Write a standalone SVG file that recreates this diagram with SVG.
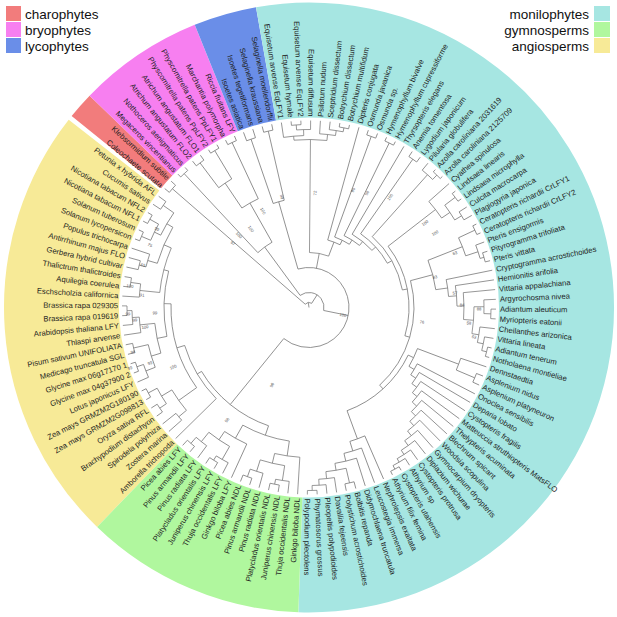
<svg xmlns="http://www.w3.org/2000/svg" width="617" height="617" viewBox="0 0 617 617">
<style>
.w{fill:none;stroke-width:115}
.t{font-family:"Liberation Sans",Arial,sans-serif;font-size:7.7px;fill:#1e1e1e;dominant-baseline:central}
.f{text-anchor:end}
.bs{font-family:"Liberation Sans",Arial,sans-serif;font-size:4.2px;fill:#555;text-anchor:middle;dominant-baseline:central}
.lg{font-family:"Liberation Sans",Arial,sans-serif;font-size:13.5px;fill:#111}
#connectors line,#connectors circle{fill:none;stroke:#707070;stroke-width:0.7}
</style>
<rect width="617" height="617" fill="#fff"/>
<g id="wedges" transform="translate(309 307.5)">
<circle class="w" r="247.5" pathLength="360" stroke="#f7ea97" stroke-dasharray="84 400" transform="rotate(134)"/>
<circle class="w" r="247.5" pathLength="360" stroke="#f27c7c" stroke-dasharray="5.1 400" transform="rotate(218.9)"/>
<circle class="w" r="247.5" pathLength="360" stroke="#f77ff0" stroke-dasharray="24 400" transform="rotate(224)"/>
<circle class="w" r="247.5" pathLength="360" stroke="#6a8ee8" stroke-dasharray="12 400" transform="rotate(248)"/>
<circle class="w" r="247.5" pathLength="360" stroke="#a6e6e2" stroke-dasharray="192 400" transform="rotate(260)"/>
<circle class="w" r="247.5" pathLength="360" stroke="#b0f79e" stroke-dasharray="42 400" transform="rotate(92)"/>
</g>
<g id="legend">
<rect x="6" y="6" width="15" height="15" fill="#f27c7c"/><text class="lg" x="25" y="18.5">charophytes</text>
<rect x="6" y="22" width="15" height="15" fill="#f77ff0"/><text class="lg" x="25" y="34.5">bryophytes</text>
<rect x="6" y="38" width="15" height="15" fill="#6a8ee8"/><text class="lg" x="25" y="50.5">lycophytes</text>
<rect x="594" y="6" width="16" height="15" fill="#a6e6e2"/><text class="lg" x="589" y="18.5" text-anchor="end">monilophytes</text>
<rect x="594" y="22" width="16" height="15" fill="#b0f79e"/><text class="lg" x="589" y="34.5" text-anchor="end">gymnosperms</text>
<rect x="594" y="38" width="16" height="15" fill="#f7ea97"/><text class="lg" x="589" y="50.5" text-anchor="end">angiosperms</text>
</g>
<g id="connectors" transform="translate(309 307.5)">
<line x1="0" x2="5" transform="rotate(261.8)"/>
<circle r="5" pathLength="360" stroke-dasharray="81.6 999" transform="rotate(221)"/>
<line x1="5" x2="181" transform="rotate(221)"/><line x1="5" x2="15" transform="rotate(302.6)"/>
<circle r="181" pathLength="360" stroke-dasharray="3 999" transform="rotate(219.5)"/>
<line x1="181" x2="187" transform="rotate(219.5)"/><line x1="181" x2="187" transform="rotate(222.5)"/>
<circle r="15" pathLength="360" stroke-dasharray="137.75 999" transform="rotate(233.75)"/>
<line x1="15" x2="75" transform="rotate(233.75)"/><line x1="15" x2="40" transform="rotate(371.5)"/>
<circle r="75" pathLength="360" stroke-dasharray="13.5 999" transform="rotate(227)"/>
<line x1="75" x2="183" transform="rotate(227)"/><line x1="75" x2="120" transform="rotate(240.5)"/>
<circle r="183" pathLength="360" stroke-dasharray="3 999" transform="rotate(225.5)"/>
<line x1="183" x2="187" transform="rotate(225.5)"/><line x1="183" x2="187" transform="rotate(228.5)"/>
<circle r="120" pathLength="360" stroke-dasharray="9 999" transform="rotate(236)"/>
<line x1="120" x2="150" transform="rotate(236)"/><line x1="120" x2="182" transform="rotate(245)"/>
<circle r="150" pathLength="360" stroke-dasharray="6 999" transform="rotate(233)"/>
<line x1="150" x2="181" transform="rotate(233)"/><line x1="150" x2="183" transform="rotate(239)"/>
<circle r="181" pathLength="360" stroke-dasharray="3 999" transform="rotate(231.5)"/>
<line x1="181" x2="187" transform="rotate(231.5)"/><line x1="181" x2="187" transform="rotate(234.5)"/>
<circle r="183" pathLength="360" stroke-dasharray="3 999" transform="rotate(237.5)"/>
<line x1="183" x2="187" transform="rotate(237.5)"/><line x1="183" x2="187" transform="rotate(240.5)"/>
<circle r="182" pathLength="360" stroke-dasharray="3 999" transform="rotate(243.5)"/>
<line x1="182" x2="187" transform="rotate(243.5)"/><line x1="182" x2="187" transform="rotate(246.5)"/>
<circle r="40" pathLength="360" stroke-dasharray="235.07 999" transform="rotate(254)"/>
<line x1="40" x2="110" transform="rotate(254)"/><line x1="40" x2="55" transform="rotate(280.7)"/><line x1="40" x2="125" transform="rotate(489.07)"/>
<circle r="110" pathLength="360" stroke-dasharray="6 999" transform="rotate(251)"/>
<line x1="110" x2="178" transform="rotate(251)"/><line x1="110" x2="181" transform="rotate(257)"/>
<circle r="178" pathLength="360" stroke-dasharray="3 999" transform="rotate(249.5)"/>
<line x1="178" x2="187" transform="rotate(249.5)"/><line x1="178" x2="187" transform="rotate(252.5)"/>
<circle r="181" pathLength="360" stroke-dasharray="3 999" transform="rotate(255.5)"/>
<line x1="181" x2="187" transform="rotate(255.5)"/><line x1="181" x2="187" transform="rotate(258.5)"/>
<circle r="55" pathLength="360" stroke-dasharray="20.39 999" transform="rotate(270.5)"/>
<line x1="55" x2="168" transform="rotate(270.5)"/><line x1="55" x2="70" transform="rotate(290.89)"/>
<circle r="168" pathLength="360" stroke-dasharray="11.25 999" transform="rotate(264.875)"/>
<line x1="168" x2="172" transform="rotate(264.875)"/><line x1="168" x2="174" transform="rotate(276.125)"/>
<circle r="172" pathLength="360" stroke-dasharray="6.75 999" transform="rotate(261.5)"/>
<line x1="172" x2="187" transform="rotate(261.5)"/><line x1="172" x2="178" transform="rotate(268.25)"/>
<circle r="178" pathLength="360" stroke-dasharray="4.5 999" transform="rotate(266)"/>
<line x1="178" x2="183" transform="rotate(266)"/><line x1="178" x2="187" transform="rotate(270.5)"/>
<circle r="183" pathLength="360" stroke-dasharray="3 999" transform="rotate(264.5)"/>
<line x1="183" x2="187" transform="rotate(264.5)"/><line x1="183" x2="187" transform="rotate(267.5)"/>
<circle r="174" pathLength="360" stroke-dasharray="5.25 999" transform="rotate(273.5)"/>
<line x1="174" x2="187" transform="rotate(273.5)"/><line x1="174" x2="179" transform="rotate(278.75)"/>
<circle r="179" pathLength="360" stroke-dasharray="4.5 999" transform="rotate(276.5)"/>
<line x1="179" x2="187" transform="rotate(276.5)"/><line x1="179" x2="183" transform="rotate(281)"/>
<circle r="183" pathLength="360" stroke-dasharray="3 999" transform="rotate(279.5)"/>
<line x1="183" x2="187" transform="rotate(279.5)"/><line x1="183" x2="187" transform="rotate(282.5)"/>
<circle r="70" pathLength="360" stroke-dasharray="10.79 999" transform="rotate(285.5)"/>
<line x1="70" x2="187" transform="rotate(285.5)"/><line x1="70" x2="75" transform="rotate(296.29)"/>
<circle r="75" pathLength="360" stroke-dasharray="12.57 999" transform="rotate(290)"/>
<line x1="75" x2="182" transform="rotate(290)"/><line x1="75" x2="80" transform="rotate(302.57)"/>
<circle r="182" pathLength="360" stroke-dasharray="3 999" transform="rotate(288.5)"/>
<line x1="182" x2="187" transform="rotate(288.5)"/><line x1="182" x2="187" transform="rotate(291.5)"/>
<circle r="80" pathLength="360" stroke-dasharray="13.14 999" transform="rotate(296)"/>
<line x1="80" x2="183" transform="rotate(296)"/><line x1="80" x2="85" transform="rotate(309.14)"/>
<circle r="183" pathLength="360" stroke-dasharray="3 999" transform="rotate(294.5)"/>
<line x1="183" x2="187" transform="rotate(294.5)"/><line x1="183" x2="187" transform="rotate(297.5)"/>
<circle r="85" pathLength="360" stroke-dasharray="17.28 999" transform="rotate(300.5)"/>
<line x1="85" x2="187" transform="rotate(300.5)"/><line x1="85" x2="90" transform="rotate(317.78)"/>
<circle r="90" pathLength="360" stroke-dasharray="25.55 999" transform="rotate(305)"/>
<line x1="90" x2="181" transform="rotate(305)"/><line x1="90" x2="95" transform="rotate(330.55)"/>
<circle r="181" pathLength="360" stroke-dasharray="3 999" transform="rotate(303.5)"/>
<line x1="181" x2="187" transform="rotate(303.5)"/><line x1="181" x2="187" transform="rotate(306.5)"/>
<circle r="95" pathLength="360" stroke-dasharray="37.6 999" transform="rotate(311.75)"/>
<line x1="95" x2="178" transform="rotate(311.75)"/><line x1="95" x2="100" transform="rotate(349.35)"/>
<circle r="178" pathLength="360" stroke-dasharray="4.5 999" transform="rotate(309.5)"/>
<line x1="178" x2="187" transform="rotate(309.5)"/><line x1="178" x2="184" transform="rotate(314)"/>
<circle r="184" pathLength="360" stroke-dasharray="3 999" transform="rotate(312.5)"/>
<line x1="184" x2="187" transform="rotate(312.5)"/><line x1="184" x2="187" transform="rotate(315.5)"/>
<circle r="100" pathLength="360" stroke-dasharray="54.19 999" transform="rotate(322.25)"/>
<line x1="100" x2="160" transform="rotate(322.25)"/><line x1="100" x2="105" transform="rotate(376.44)"/>
<circle r="160" pathLength="360" stroke-dasharray="7.5 999" transform="rotate(318.5)"/>
<line x1="160" x2="187" transform="rotate(318.5)"/><line x1="160" x2="170" transform="rotate(326)"/>
<circle r="170" pathLength="360" stroke-dasharray="6 999" transform="rotate(323)"/>
<line x1="170" x2="183" transform="rotate(323)"/><line x1="170" x2="178" transform="rotate(329)"/>
<circle r="183" pathLength="360" stroke-dasharray="3 999" transform="rotate(321.5)"/>
<line x1="183" x2="187" transform="rotate(321.5)"/><line x1="183" x2="187" transform="rotate(324.5)"/>
<circle r="178" pathLength="360" stroke-dasharray="3 999" transform="rotate(327.5)"/>
<line x1="178" x2="187" transform="rotate(327.5)"/><line x1="178" x2="187" transform="rotate(330.5)"/>
<circle r="105" pathLength="360" stroke-dasharray="62.52 999" transform="rotate(345.18)"/>
<line x1="105" x2="128" transform="rotate(345.18)"/><line x1="105" x2="110" transform="rotate(407.7)"/>
<circle r="128" pathLength="360" stroke-dasharray="13.615 999" transform="rotate(338.375)"/>
<line x1="128" x2="165" transform="rotate(338.375)"/><line x1="128" x2="140" transform="rotate(351.99)"/>
<circle r="165" pathLength="360" stroke-dasharray="6.75 999" transform="rotate(335)"/>
<line x1="165" x2="183" transform="rotate(335)"/><line x1="165" x2="178" transform="rotate(341.75)"/>
<circle r="183" pathLength="360" stroke-dasharray="3 999" transform="rotate(333.5)"/>
<line x1="183" x2="187" transform="rotate(333.5)"/><line x1="183" x2="187" transform="rotate(336.5)"/>
<circle r="178" pathLength="360" stroke-dasharray="4.5 999" transform="rotate(339.5)"/>
<line x1="178" x2="187" transform="rotate(339.5)"/><line x1="178" x2="182" transform="rotate(344)"/>
<circle r="182" pathLength="360" stroke-dasharray="3 999" transform="rotate(342.5)"/>
<line x1="182" x2="187" transform="rotate(342.5)"/><line x1="182" x2="187" transform="rotate(345.5)"/>
<circle r="140" pathLength="360" stroke-dasharray="6.98 999" transform="rotate(348.5)"/>
<line x1="140" x2="187" transform="rotate(348.5)"/><line x1="140" x2="148" transform="rotate(355.48)"/>
<circle r="148" pathLength="360" stroke-dasharray="7.97 999" transform="rotate(351.5)"/>
<line x1="148" x2="187" transform="rotate(351.5)"/><line x1="148" x2="155" transform="rotate(359.47)"/>
<circle r="155" pathLength="360" stroke-dasharray="9.94 999" transform="rotate(354.5)"/>
<line x1="155" x2="187" transform="rotate(354.5)"/><line x1="155" x2="165" transform="rotate(364.44)"/>
<circle r="165" pathLength="360" stroke-dasharray="9.375 999" transform="rotate(359.75)"/>
<line x1="165" x2="175" transform="rotate(359.75)"/><line x1="165" x2="172" transform="rotate(369.125)"/>
<circle r="175" pathLength="360" stroke-dasharray="4.5 999" transform="rotate(357.5)"/>
<line x1="175" x2="187" transform="rotate(357.5)"/><line x1="175" x2="182" transform="rotate(362)"/>
<circle r="182" pathLength="360" stroke-dasharray="3 999" transform="rotate(360.5)"/>
<line x1="182" x2="187" transform="rotate(360.5)"/><line x1="182" x2="187" transform="rotate(363.5)"/>
<circle r="172" pathLength="360" stroke-dasharray="5.25 999" transform="rotate(366.5)"/>
<line x1="172" x2="187" transform="rotate(366.5)"/><line x1="172" x2="178" transform="rotate(371.75)"/>
<circle r="178" pathLength="360" stroke-dasharray="4.5 999" transform="rotate(369.5)"/>
<line x1="178" x2="187" transform="rotate(369.5)"/><line x1="178" x2="183" transform="rotate(374)"/>
<circle r="183" pathLength="360" stroke-dasharray="3 999" transform="rotate(372.5)"/>
<line x1="183" x2="187" transform="rotate(372.5)"/><line x1="183" x2="187" transform="rotate(375.5)"/>
<circle r="110" pathLength="360" stroke-dasharray="44.13 999" transform="rotate(385.63)"/>
<line x1="110" x2="116" transform="rotate(385.63)"/><line x1="110" x2="140" transform="rotate(429.76)"/>
<circle r="116" pathLength="360" stroke-dasharray="9.75 999" transform="rotate(380.75)"/>
<line x1="116" x2="160" transform="rotate(380.75)"/><line x1="116" x2="122" transform="rotate(390.5)"/>
<circle r="160" pathLength="360" stroke-dasharray="4.5 999" transform="rotate(378.5)"/>
<line x1="160" x2="187" transform="rotate(378.5)"/><line x1="160" x2="180" transform="rotate(383)"/>
<circle r="180" pathLength="360" stroke-dasharray="3 999" transform="rotate(381.5)"/>
<line x1="180" x2="187" transform="rotate(381.5)"/><line x1="180" x2="187" transform="rotate(384.5)"/>
<circle r="122" pathLength="360" stroke-dasharray="6 999" transform="rotate(387.5)"/>
<line x1="122" x2="187" transform="rotate(387.5)"/><line x1="122" x2="128" transform="rotate(393.5)"/>
<circle r="128" pathLength="360" stroke-dasharray="6 999" transform="rotate(390.5)"/>
<line x1="128" x2="187" transform="rotate(390.5)"/><line x1="128" x2="134" transform="rotate(396.5)"/>
<circle r="134" pathLength="360" stroke-dasharray="6 999" transform="rotate(393.5)"/>
<line x1="134" x2="187" transform="rotate(393.5)"/><line x1="134" x2="140" transform="rotate(399.5)"/>
<circle r="140" pathLength="360" stroke-dasharray="5.99 999" transform="rotate(396.5)"/>
<line x1="140" x2="187" transform="rotate(396.5)"/><line x1="140" x2="146" transform="rotate(402.49)"/>
<circle r="146" pathLength="360" stroke-dasharray="5.98 999" transform="rotate(399.5)"/>
<line x1="146" x2="187" transform="rotate(399.5)"/><line x1="146" x2="152" transform="rotate(405.48)"/>
<circle r="152" pathLength="360" stroke-dasharray="5.95 999" transform="rotate(402.5)"/>
<line x1="152" x2="187" transform="rotate(402.5)"/><line x1="152" x2="158" transform="rotate(408.45)"/>
<circle r="158" pathLength="360" stroke-dasharray="5.91 999" transform="rotate(405.5)"/>
<line x1="158" x2="187" transform="rotate(405.5)"/><line x1="158" x2="164" transform="rotate(411.41)"/>
<circle r="164" pathLength="360" stroke-dasharray="5.81 999" transform="rotate(408.5)"/>
<line x1="164" x2="187" transform="rotate(408.5)"/><line x1="164" x2="170" transform="rotate(414.31)"/>
<circle r="170" pathLength="360" stroke-dasharray="5.625 999" transform="rotate(411.5)"/>
<line x1="170" x2="187" transform="rotate(411.5)"/><line x1="170" x2="175" transform="rotate(417.125)"/>
<circle r="175" pathLength="360" stroke-dasharray="5.25 999" transform="rotate(414.5)"/>
<line x1="175" x2="187" transform="rotate(414.5)"/><line x1="175" x2="179" transform="rotate(419.75)"/>
<circle r="179" pathLength="360" stroke-dasharray="4.5 999" transform="rotate(417.5)"/>
<line x1="179" x2="187" transform="rotate(417.5)"/><line x1="179" x2="183" transform="rotate(422)"/>
<circle r="183" pathLength="360" stroke-dasharray="3 999" transform="rotate(420.5)"/>
<line x1="183" x2="187" transform="rotate(420.5)"/><line x1="183" x2="187" transform="rotate(423.5)"/>
<circle r="140" pathLength="360" stroke-dasharray="6.52 999" transform="rotate(426.5)"/>
<line x1="140" x2="187" transform="rotate(426.5)"/><line x1="140" x2="150" transform="rotate(433.02)"/>
<circle r="150" pathLength="360" stroke-dasharray="7.03 999" transform="rotate(429.5)"/>
<line x1="150" x2="187" transform="rotate(429.5)"/><line x1="150" x2="158" transform="rotate(436.53)"/>
<circle r="158" pathLength="360" stroke-dasharray="8.06 999" transform="rotate(432.5)"/>
<line x1="158" x2="187" transform="rotate(432.5)"/><line x1="158" x2="165" transform="rotate(440.56)"/>
<circle r="165" pathLength="360" stroke-dasharray="7.13 999" transform="rotate(437)"/>
<line x1="165" x2="180" transform="rotate(437)"/><line x1="165" x2="172" transform="rotate(444.13)"/>
<circle r="180" pathLength="360" stroke-dasharray="3 999" transform="rotate(435.5)"/>
<line x1="180" x2="187" transform="rotate(435.5)"/><line x1="180" x2="187" transform="rotate(438.5)"/>
<circle r="172" pathLength="360" stroke-dasharray="5.25 999" transform="rotate(441.5)"/>
<line x1="172" x2="187" transform="rotate(441.5)"/><line x1="172" x2="178" transform="rotate(446.75)"/>
<circle r="178" pathLength="360" stroke-dasharray="4.5 999" transform="rotate(444.5)"/>
<line x1="178" x2="187" transform="rotate(444.5)"/><line x1="178" x2="183" transform="rotate(449)"/>
<circle r="183" pathLength="360" stroke-dasharray="3 999" transform="rotate(447.5)"/>
<line x1="183" x2="187" transform="rotate(447.5)"/><line x1="183" x2="187" transform="rotate(450.5)"/>
<circle r="125" pathLength="360" stroke-dasharray="40.385 999" transform="rotate(468.875)"/>
<line x1="125" x2="135" transform="rotate(468.875)"/><line x1="125" x2="130" transform="rotate(509.26)"/>
<circle r="135" pathLength="360" stroke-dasharray="21 999" transform="rotate(458.375)"/>
<line x1="135" x2="150" transform="rotate(458.375)"/><line x1="135" x2="150" transform="rotate(479.375)"/>
<circle r="150" pathLength="360" stroke-dasharray="9.75 999" transform="rotate(453.5)"/>
<line x1="150" x2="187" transform="rotate(453.5)"/><line x1="150" x2="160" transform="rotate(463.25)"/>
<circle r="160" pathLength="360" stroke-dasharray="9 999" transform="rotate(458.75)"/>
<line x1="160" x2="175" transform="rotate(458.75)"/><line x1="160" x2="172" transform="rotate(467.75)"/>
<circle r="175" pathLength="360" stroke-dasharray="4.5 999" transform="rotate(456.5)"/>
<line x1="175" x2="187" transform="rotate(456.5)"/><line x1="175" x2="180" transform="rotate(461)"/>
<circle r="180" pathLength="360" stroke-dasharray="3 999" transform="rotate(459.5)"/>
<line x1="180" x2="187" transform="rotate(459.5)"/><line x1="180" x2="187" transform="rotate(462.5)"/>
<circle r="172" pathLength="360" stroke-dasharray="4.5 999" transform="rotate(465.5)"/>
<line x1="172" x2="187" transform="rotate(465.5)"/><line x1="172" x2="180" transform="rotate(470)"/>
<circle r="180" pathLength="360" stroke-dasharray="3 999" transform="rotate(468.5)"/>
<line x1="180" x2="187" transform="rotate(468.5)"/><line x1="180" x2="187" transform="rotate(471.5)"/>
<circle r="150" pathLength="360" stroke-dasharray="9.75 999" transform="rotate(474.5)"/>
<line x1="150" x2="187" transform="rotate(474.5)"/><line x1="150" x2="160" transform="rotate(484.25)"/>
<circle r="160" pathLength="360" stroke-dasharray="9 999" transform="rotate(479.75)"/>
<line x1="160" x2="175" transform="rotate(479.75)"/><line x1="160" x2="172" transform="rotate(488.75)"/>
<circle r="175" pathLength="360" stroke-dasharray="4.5 999" transform="rotate(477.5)"/>
<line x1="175" x2="187" transform="rotate(477.5)"/><line x1="175" x2="180" transform="rotate(482)"/>
<circle r="180" pathLength="360" stroke-dasharray="3 999" transform="rotate(480.5)"/>
<line x1="180" x2="187" transform="rotate(480.5)"/><line x1="180" x2="187" transform="rotate(483.5)"/>
<circle r="172" pathLength="360" stroke-dasharray="4.5 999" transform="rotate(486.5)"/>
<line x1="172" x2="187" transform="rotate(486.5)"/><line x1="172" x2="180" transform="rotate(491)"/>
<circle r="180" pathLength="360" stroke-dasharray="3 999" transform="rotate(489.5)"/>
<line x1="180" x2="187" transform="rotate(489.5)"/><line x1="180" x2="187" transform="rotate(492.5)"/>
<circle r="130" pathLength="360" stroke-dasharray="27.52 999" transform="rotate(495.5)"/>
<line x1="130" x2="187" transform="rotate(495.5)"/><line x1="130" x2="138" transform="rotate(523.02)"/>
<circle r="138" pathLength="360" stroke-dasharray="37.03 999" transform="rotate(504.5)"/>
<line x1="138" x2="160" transform="rotate(504.5)"/><line x1="138" x2="145" transform="rotate(541.53)"/>
<circle r="160" pathLength="360" stroke-dasharray="9 999" transform="rotate(500)"/>
<line x1="160" x2="170" transform="rotate(500)"/><line x1="160" x2="172" transform="rotate(509)"/>
<circle r="170" pathLength="360" stroke-dasharray="3 999" transform="rotate(498.5)"/>
<line x1="170" x2="187" transform="rotate(498.5)"/><line x1="170" x2="187" transform="rotate(501.5)"/>
<circle r="172" pathLength="360" stroke-dasharray="6 999" transform="rotate(506)"/>
<line x1="172" x2="180" transform="rotate(506)"/><line x1="172" x2="182" transform="rotate(512)"/>
<circle r="180" pathLength="360" stroke-dasharray="3 999" transform="rotate(504.5)"/>
<line x1="180" x2="187" transform="rotate(504.5)"/><line x1="180" x2="187" transform="rotate(507.5)"/>
<circle r="182" pathLength="360" stroke-dasharray="3 999" transform="rotate(510.5)"/>
<line x1="182" x2="187" transform="rotate(510.5)"/><line x1="182" x2="187" transform="rotate(513.5)"/>
<circle r="145" pathLength="360" stroke-dasharray="26.06 999" transform="rotate(528.5)"/>
<line x1="145" x2="155" transform="rotate(528.5)"/><line x1="145" x2="150" transform="rotate(554.56)"/>
<circle r="155" pathLength="360" stroke-dasharray="11.25 999" transform="rotate(522.875)"/>
<line x1="155" x2="165" transform="rotate(522.875)"/><line x1="155" x2="170" transform="rotate(534.125)"/>
<circle r="165" pathLength="360" stroke-dasharray="8.25 999" transform="rotate(518.75)"/>
<line x1="165" x2="175" transform="rotate(518.75)"/><line x1="165" x2="180" transform="rotate(527)"/>
<circle r="175" pathLength="360" stroke-dasharray="4.5 999" transform="rotate(516.5)"/>
<line x1="175" x2="187" transform="rotate(516.5)"/><line x1="175" x2="182" transform="rotate(521)"/>
<circle r="182" pathLength="360" stroke-dasharray="3 999" transform="rotate(519.5)"/>
<line x1="182" x2="187" transform="rotate(519.5)"/><line x1="182" x2="187" transform="rotate(522.5)"/>
<circle r="180" pathLength="360" stroke-dasharray="3 999" transform="rotate(525.5)"/>
<line x1="180" x2="187" transform="rotate(525.5)"/><line x1="180" x2="187" transform="rotate(528.5)"/>
<circle r="170" pathLength="360" stroke-dasharray="5.25 999" transform="rotate(531.5)"/>
<line x1="170" x2="187" transform="rotate(531.5)"/><line x1="170" x2="177" transform="rotate(536.75)"/>
<circle r="177" pathLength="360" stroke-dasharray="4.5 999" transform="rotate(534.5)"/>
<line x1="177" x2="187" transform="rotate(534.5)"/><line x1="177" x2="182" transform="rotate(539)"/>
<circle r="182" pathLength="360" stroke-dasharray="3 999" transform="rotate(537.5)"/>
<line x1="182" x2="187" transform="rotate(537.5)"/><line x1="182" x2="187" transform="rotate(540.5)"/>
<circle r="150" pathLength="360" stroke-dasharray="17.625 999" transform="rotate(545.75)"/>
<line x1="150" x2="170" transform="rotate(545.75)"/><line x1="150" x2="158" transform="rotate(563.375)"/>
<circle r="170" pathLength="360" stroke-dasharray="4.5 999" transform="rotate(543.5)"/>
<line x1="170" x2="187" transform="rotate(543.5)"/><line x1="170" x2="180" transform="rotate(548)"/>
<circle r="180" pathLength="360" stroke-dasharray="3 999" transform="rotate(546.5)"/>
<line x1="180" x2="187" transform="rotate(546.5)"/><line x1="180" x2="187" transform="rotate(549.5)"/>
<circle r="158" pathLength="360" stroke-dasharray="14.25 999" transform="rotate(556.25)"/>
<line x1="158" x2="168" transform="rotate(556.25)"/><line x1="158" x2="165" transform="rotate(570.5)"/>
<circle r="168" pathLength="360" stroke-dasharray="4.5 999" transform="rotate(554)"/>
<line x1="168" x2="175" transform="rotate(554)"/><line x1="168" x2="187" transform="rotate(558.5)"/>
<circle r="175" pathLength="360" stroke-dasharray="3 999" transform="rotate(552.5)"/>
<line x1="175" x2="187" transform="rotate(552.5)"/><line x1="175" x2="187" transform="rotate(555.5)"/>
<circle r="165" pathLength="360" stroke-dasharray="9 999" transform="rotate(566)"/>
<line x1="165" x2="172" transform="rotate(566)"/><line x1="165" x2="178" transform="rotate(575)"/>
<circle r="172" pathLength="360" stroke-dasharray="6 999" transform="rotate(563)"/>
<line x1="172" x2="182" transform="rotate(563)"/><line x1="172" x2="182" transform="rotate(569)"/>
<circle r="182" pathLength="360" stroke-dasharray="3 999" transform="rotate(561.5)"/>
<line x1="182" x2="187" transform="rotate(561.5)"/><line x1="182" x2="187" transform="rotate(564.5)"/>
<circle r="182" pathLength="360" stroke-dasharray="3 999" transform="rotate(567.5)"/>
<line x1="182" x2="187" transform="rotate(567.5)"/><line x1="182" x2="187" transform="rotate(570.5)"/>
<circle r="178" pathLength="360" stroke-dasharray="3 999" transform="rotate(573.5)"/>
<line x1="178" x2="187" transform="rotate(573.5)"/><line x1="178" x2="187" transform="rotate(576.5)"/>
</g>
<g id="support">
<text class="bs" transform="translate(233 243) rotate(40.3)">97</text>
<text class="bs" transform="translate(239 235) rotate(45.6)">100</text>
<text class="bs" transform="translate(251 229) rotate(52.7)">100</text>
<text class="bs" transform="translate(263 211) rotate(63.8)">100</text>
<text class="bs" transform="translate(282 197) rotate(76.3)">99</text>
<text class="bs" transform="translate(315 193) rotate(273)">72</text>
<text class="bs" transform="translate(353 190) rotate(290.5)">95</text>
<text class="bs" transform="translate(367 193) rotate(296.9)">98</text>
<text class="bs" transform="translate(390 197) rotate(306.2)">100</text>
<text class="bs" transform="translate(343 315) rotate(12.4)">100</text>
<text class="bs" transform="translate(272 385) rotate(295.5)">96</text>
<text class="bs" transform="translate(227 420) rotate(306)">98</text>
<text class="bs" transform="translate(157 229) rotate(27.3)">99</text>
<text class="bs" transform="translate(150 245) rotate(21.5)">75</text>
<text class="bs" transform="translate(143 265) rotate(14.4)">65</text>
<text class="bs" transform="translate(130 286) rotate(6.8)">100</text>
<text class="bs" transform="translate(142 295) rotate(4.3)">91</text>
<text class="bs" transform="translate(128 314) rotate(-2.1)">99</text>
<text class="bs" transform="translate(135 320) rotate(-4.1)">99</text>
<text class="bs" transform="translate(145 327) rotate(-6.8)">100</text>
<text class="bs" transform="translate(155 313) rotate(-2)">99</text>
<text class="bs" transform="translate(133 352) rotate(-14.2)">98</text>
<text class="bs" transform="translate(150 363) rotate(-19.2)">99</text>
<text class="bs" transform="translate(130 368) rotate(-18.7)">99</text>
<text class="bs" transform="translate(173 367) rotate(-23.6)">100</text>
<text class="bs" transform="translate(425 223) rotate(323.9)">100</text>
<text class="bs" transform="translate(435 233) rotate(329.4)">100</text>
<text class="bs" transform="translate(455 253) rotate(339.5)">63</text>
<text class="bs" transform="translate(435 277) rotate(346.4)">83</text>
<text class="bs" transform="translate(455 293) rotate(354.3)">57</text>
<text class="bs" transform="translate(462 305) rotate(359)">84</text>
<text class="bs" transform="translate(479 309) rotate(0.5)">88</text>
<text class="bs" transform="translate(469 323) rotate(5.5)">58</text>
<text class="bs" transform="translate(474 337) rotate(10.1)">63</text>
<text class="bs" transform="translate(422 322) rotate(7.3)">76</text>
</g>
<g id="leaves" transform="translate(309 307.5)">
<g id="m0"><text class="t f" transform="rotate(81.5) translate(-191 0)">Equisetum arvense EqLFY1</text></g>
<g id="m1"><text class="t f" transform="rotate(84.5) translate(-191 0)">Equisetum hymale</text></g>
<g id="m2"><text class="t f" transform="rotate(87.5) translate(-191 0)">Equisetum arvense EqLFY2</text></g>
<g id="m3"><text class="t f" transform="rotate(90.5) translate(-191 0)">Equisetum diffusum</text></g>
<g id="m4"><text class="t" transform="rotate(273.5) translate(191 0)">Psilotum nudum</text></g>
<g id="m5"><text class="t" transform="rotate(276.5) translate(191 0)">Sceptridium dissectum</text></g>
<g id="m6"><text class="t" transform="rotate(279.5) translate(191 0)">Botrychium dissectum</text></g>
<g id="m7"><text class="t" transform="rotate(282.5) translate(191 0)">Botrychium multifidum</text></g>
<g id="m8"><text class="t" transform="rotate(285.5) translate(191 0)">Dipteris conjugata</text></g>
<g id="m9"><text class="t" transform="rotate(288.5) translate(191 0)">Osmunda javanica</text></g>
<g id="m10"><text class="t" transform="rotate(291.5) translate(191 0)">Osmunda sp.</text></g>
<g id="m11"><text class="t" transform="rotate(294.5) translate(191 0)">Hymenophyllum bivalve</text></g>
<g id="m12"><text class="t" transform="rotate(297.5) translate(191 0)">Hymenophyllum cupressiforme</text></g>
<g id="m13"><text class="t" transform="rotate(300.5) translate(191 0)">Thyrsopteris elegans</text></g>
<g id="m14"><text class="t" transform="rotate(303.5) translate(191 0)">Anemia tomentosa</text></g>
<g id="m15"><text class="t" transform="rotate(306.5) translate(191 0)">Lygodium japonicum</text></g>
<g id="m16"><text class="t" transform="rotate(309.5) translate(191 0)">Pilularia globulifera</text></g>
<g id="m17"><text class="t" transform="rotate(312.5) translate(191 0)">Azolla caroliniana 2031619</text></g>
<g id="m18"><text class="t" transform="rotate(315.5) translate(191 0)">Azolla caroliniana 2125709</text></g>
<g id="m19"><text class="t" transform="rotate(318.5) translate(191 0)">Cyathea spinulosa</text></g>
<g id="m20"><text class="t" transform="rotate(321.5) translate(191 0)">Lindsaea linearis</text></g>
<g id="m21"><text class="t" transform="rotate(324.5) translate(191 0)">Lindsaea microphylla</text></g>
<g id="m22"><text class="t" transform="rotate(327.5) translate(191 0)">Culcita macrocarpa</text></g>
<g id="m23"><text class="t" transform="rotate(330.5) translate(191 0)">Plagiogyria japonica</text></g>
<g id="m24"><text class="t" transform="rotate(333.5) translate(191 0)">Ceratopteris richardii CrLFY1</text></g>
<g id="m25"><text class="t" transform="rotate(336.5) translate(191 0)">Ceratopteris richardii CrLFY2</text></g>
<g id="m26"><text class="t" transform="rotate(339.5) translate(191 0)">Pteris ensigormis</text></g>
<g id="m27"><text class="t" transform="rotate(342.5) translate(191 0)">Pityrogramma trifoliata</text></g>
<g id="m28"><text class="t" transform="rotate(345.5) translate(191 0)">Pteris vittata</text></g>
<g id="m29"><text class="t" transform="rotate(348.5) translate(191 0)">Cryptogramma acrostichoides</text></g>
<g id="m30"><text class="t" transform="rotate(351.5) translate(191 0)">Hemionitis arifolia</text></g>
<g id="m31"><text class="t" transform="rotate(354.5) translate(191 0)">Vittaria appalachiana</text></g>
<g id="m32"><text class="t" transform="rotate(357.5) translate(191 0)">Argyrochosma nivea</text></g>
<g id="m33"><text class="t" transform="rotate(360.5) translate(191 0)">Adiantum aleuticum</text></g>
<g id="m34"><text class="t" transform="rotate(363.5) translate(191 0)">Myriopteris eatonii</text></g>
<g id="m35"><text class="t" transform="rotate(366.5) translate(191 0)">Cheilanthes arizonica</text></g>
<g id="m36"><text class="t" transform="rotate(369.5) translate(191 0)">Vittaria lineata</text></g>
<g id="m37"><text class="t" transform="rotate(372.5) translate(191 0)">Adiantum tenerum</text></g>
<g id="m38"><text class="t" transform="rotate(375.5) translate(191 0)">Notholaena montieliae</text></g>
<g id="m39"><text class="t" transform="rotate(378.5) translate(191 0)">Dennstaedtia</text></g>
<g id="m40"><text class="t" transform="rotate(381.5) translate(191 0)">Asplenium nidus</text></g>
<g id="m41"><text class="t" transform="rotate(384.5) translate(191 0)">Asplenium platyneuron</text></g>
<g id="m42"><text class="t" transform="rotate(387.5) translate(191 0)">Onoclea sensibilis</text></g>
<g id="m43"><text class="t" transform="rotate(390.5) translate(191 0)">Deparia lobato</text></g>
<g id="m44"><text class="t" transform="rotate(393.5) translate(191 0)">Cystopteris fragilis</text></g>
<g id="m45"><text class="t" transform="rotate(396.5) translate(191 0)">Matteuccia struthiopteris MatsFLO</text></g>
<g id="m46"><text class="t" transform="rotate(399.5) translate(191 0)">Thelypteris acuminata</text></g>
<g id="m47"><text class="t" transform="rotate(402.5) translate(191 0)">Blechnum spicant</text></g>
<g id="m48"><text class="t" transform="rotate(405.5) translate(191 0)">Woodsia scopulina</text></g>
<g id="m49"><text class="t" transform="rotate(408.5) translate(191 0)">Gymnocarpium dryopteris</text></g>
<g id="m50"><text class="t" transform="rotate(411.5) translate(191 0)">Diplazium wichurae</text></g>
<g id="m51"><text class="t" transform="rotate(414.5) translate(191 0)">Cystopteris protrusa</text></g>
<g id="m52"><text class="t" transform="rotate(417.5) translate(191 0)">Athyrium sp</text></g>
<g id="m53"><text class="t" transform="rotate(420.5) translate(191 0)">Cystopteris utahensis</text></g>
<g id="m54"><text class="t" transform="rotate(423.5) translate(191 0)">Athyrium filix femina</text></g>
<g id="m55"><text class="t" transform="rotate(426.5) translate(191 0)">Nephrolepsis exaltata</text></g>
<g id="m56"><text class="t" transform="rotate(429.5) translate(191 0)">Leucostegia immersa</text></g>
<g id="m57"><text class="t" transform="rotate(432.5) translate(191 0)">Didymochlaena truncatula</text></g>
<g id="m58"><text class="t" transform="rotate(435.5) translate(191 0)">Bolbitis repanda</text></g>
<g id="m59"><text class="t" transform="rotate(438.5) translate(191 0)">Polystichum acrostichoides</text></g>
<g id="m60"><text class="t" transform="rotate(441.5) translate(191 0)">Davallia fejeensis</text></g>
<g id="m61"><text class="t" transform="rotate(444.5) translate(191 0)">Pleopeltis polypodioides</text></g>
<g id="m62"><text class="t" transform="rotate(447.5) translate(191 0)">Phymatosorus grossus</text></g>
<g id="m63"><text class="t" transform="rotate(450.5) translate(191 0)">Polypodium plectolens</text></g>
<g id="g0"><text class="t f" transform="rotate(273.5) translate(-191 0)">Ginkgo biloba NDL</text></g>
<g id="g1"><text class="t f" transform="rotate(276.5) translate(-191 0)">Thuja occidentalis NDL</text></g>
<g id="g2"><text class="t f" transform="rotate(279.5) translate(-191 0)">Juniperus chinensis NDL</text></g>
<g id="g3"><text class="t f" transform="rotate(282.5) translate(-191 0)">Platycladus orientalis NDL</text></g>
<g id="g4"><text class="t f" transform="rotate(285.5) translate(-191 0)">Pinus radiata NDL</text></g>
<g id="g5"><text class="t f" transform="rotate(288.5) translate(-191 0)">Pinus armandii NDL</text></g>
<g id="g6"><text class="t f" transform="rotate(291.5) translate(-191 0)">Picea abies NDL</text></g>
<g id="g7"><text class="t f" transform="rotate(294.5) translate(-191 0)">Ginkgo biloba LFY</text></g>
<g id="g8"><text class="t f" transform="rotate(297.5) translate(-191 0)">Thuja occidentalis LFY</text></g>
<g id="g9"><text class="t f" transform="rotate(300.5) translate(-191 0)">Juniperus chinensis LFY</text></g>
<g id="g10"><text class="t f" transform="rotate(303.5) translate(-191 0)">Platycladus orientalis LFY</text></g>
<g id="g11"><text class="t f" transform="rotate(306.5) translate(-191 0)">Pinus radiata LFY</text></g>
<g id="g12"><text class="t f" transform="rotate(309.5) translate(-191 0)">Pinus armandii LFY</text></g>
<g id="g13"><text class="t f" transform="rotate(312.5) translate(-191 0)">Picea abies LFY</text></g>
<g id="a0"><text class="t f" transform="rotate(315.5) translate(-191 0)">Amborella trichopoda</text></g>
<g id="a1"><text class="t f" transform="rotate(318.5) translate(-191 0)">Zostera marina</text></g>
<g id="a2"><text class="t f" transform="rotate(321.5) translate(-191 0)">Spirodela polyrhiza</text></g>
<g id="a3"><text class="t f" transform="rotate(324.5) translate(-191 0)">Brachypodium distachyon</text></g>
<g id="a4"><text class="t f" transform="rotate(327.5) translate(-191 0)">Oryza sativa RFL</text></g>
<g id="a5"><text class="t f" transform="rotate(330.5) translate(-191 0)">Zea mays GRMZM2G098813</text></g>
<g id="a6"><text class="t f" transform="rotate(333.5) translate(-191 0)">Zea mays GRMZM2G180190</text></g>
<g id="a7"><text class="t f" transform="rotate(336.5) translate(-191 0)">Lotus japonicus LFY</text></g>
<g id="a8"><text class="t f" transform="rotate(339.5) translate(-191 0)">Glycine max 04g37900 2</text></g>
<g id="a9"><text class="t f" transform="rotate(342.5) translate(-191 0)">Glycine max 06g17170 1</text></g>
<g id="a10"><text class="t f" transform="rotate(345.5) translate(-191 0)">Medicago truncatula SGL</text></g>
<g id="a11"><text class="t f" transform="rotate(348.5) translate(-191 0)">Pisum sativum UNIFOLIATA</text></g>
<g id="a12"><text class="t f" transform="rotate(351.5) translate(-191 0)">Thlaspi arvense</text></g>
<g id="a13"><text class="t f" transform="rotate(354.5) translate(-191 0)">Arabidopsis thaliana LFY</text></g>
<g id="a14"><text class="t f" transform="rotate(357.5) translate(-191 0)">Brassica rapa 019619</text></g>
<g id="a15"><text class="t f" transform="rotate(360.5) translate(-191 0)">Brassica rapa 029305</text></g>
<g id="a16"><text class="t f" transform="rotate(363.5) translate(-191 0)">Eschscholzia californica</text></g>
<g id="a17"><text class="t f" transform="rotate(366.5) translate(-191 0)">Aquilegia coerulea</text></g>
<g id="a18"><text class="t f" transform="rotate(369.5) translate(-191 0)">Thalictrum thalictroides</text></g>
<g id="a19"><text class="t f" transform="rotate(372.5) translate(-191 0)">Gerbera hybrid cultivar</text></g>
<g id="a20"><text class="t f" transform="rotate(375.5) translate(-191 0)">Antirrhinum majus FLO</text></g>
<g id="a21"><text class="t f" transform="rotate(378.5) translate(-191 0)">Populus trichocarpa</text></g>
<g id="a22"><text class="t f" transform="rotate(381.5) translate(-191 0)">Solanum lycopersicon</text></g>
<g id="a23"><text class="t f" transform="rotate(384.5) translate(-191 0)">Solanum tuberosum</text></g>
<g id="a24"><text class="t f" transform="rotate(387.5) translate(-191 0)">Nicotiana tabacum NFL1</text></g>
<g id="a25"><text class="t f" transform="rotate(390.5) translate(-191 0)">Nicotiana tabacum NFL2</text></g>
<g id="a26"><text class="t f" transform="rotate(393.5) translate(-191 0)">Cucumis sativus</text></g>
<g id="a27"><text class="t f" transform="rotate(396.5) translate(-191 0)">Petunia x hybrida AFL</text></g>
<g id="c0"><text class="t f" transform="rotate(39.5) translate(-191 0)">Coleochaete scutata</text></g>
<g id="c1"><text class="t f" transform="rotate(42.5) translate(-191 0)">Klebsormidium subtile</text></g>
<g id="b0"><text class="t f" transform="rotate(45.5) translate(-191 0)">Megaceros vincentianus</text></g>
<g id="b1"><text class="t f" transform="rotate(48.5) translate(-191 0)">Nothoceros aenigmaticus</text></g>
<g id="b2"><text class="t f" transform="rotate(51.5) translate(-191 0)">Atrichum angustatum FLO2</text></g>
<g id="b3"><text class="t f" transform="rotate(54.5) translate(-191 0)">Atrichum angustatum FLO1</text></g>
<g id="b4"><text class="t f" transform="rotate(57.5) translate(-191 0)">Physcomitrella patens PpLFY2</text></g>
<g id="b5"><text class="t f" transform="rotate(60.5) translate(-191 0)">Physcomitrella patens PpLFY1</text></g>
<g id="b6"><text class="t f" transform="rotate(63.5) translate(-191 0)">Marchantia polymorpha</text></g>
<g id="b7"><text class="t f" transform="rotate(66.5) translate(-191 0)">Riccia fluitans LFY</text></g>
<g id="l0"><text class="t f" transform="rotate(69.5) translate(-191 0)">Isoetes asiatica</text></g>
<g id="l1"><text class="t f" transform="rotate(72.5) translate(-191 0)">Isoetes tegetiformans</text></g>
<g id="l2"><text class="t f" transform="rotate(75.5) translate(-191 0)">Selaginella kraussiana</text></g>
<g id="l3"><text class="t f" transform="rotate(78.5) translate(-191 0)">Selaginella moellendorffii</text></g>
</g>
</svg>
